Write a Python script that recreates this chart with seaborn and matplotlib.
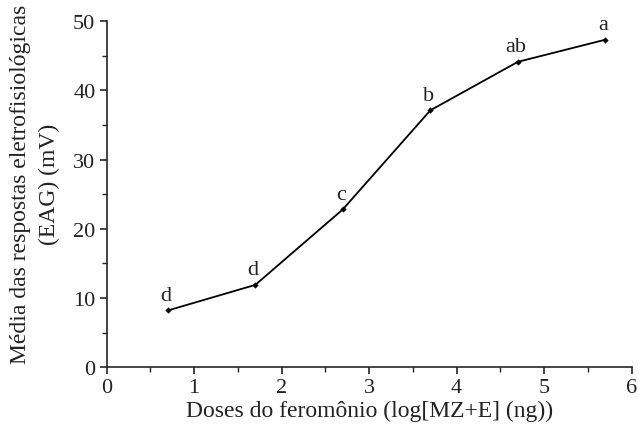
import matplotlib
matplotlib.use("Agg")
import matplotlib.pyplot as plt
from matplotlib.ticker import MultipleLocator
import pandas as pd
import seaborn as sns

# data
doses = [0.7, 1.7, 2.7, 3.7, 4.7, 5.7]
eag_mean = [8.2, 11.9, 22.8, 37.1, 44.1, 47.3]
letters = ["d", "d", "c", "b", "ab", "a"]

x_ticks = [0, 1, 2, 3, 4, 5, 6]
y_ticks = [0, 10, 20, 30, 40, 50]


def plot_eag(df):
    sns.set_style("ticks")
    plt.rcParams["font.family"] = ["Liberation Serif", "DejaVu Serif"]
    plt.rcParams["text.color"] = "#222222"

    fig = plt.figure(figsize=(6.38, 4.31), dpi=100)
    ax = fig.add_axes([0.167, 0.1455, 0.823, 0.8035])

    sns.lineplot(data=df, x="dose", y="eag", ax=ax, color="black",
                 linewidth=1.3, marker="D", markersize=3.2,
                 markeredgewidth=0, markerfacecolor="black")

    for xv, yv, lab in zip(df["dose"], df["eag"], df["letter"]):
        ax.annotate(lab, (xv, yv), xytext=(-1.5, 4), textcoords="offset points",
                    ha="center", va="bottom", fontsize=16, color="#222222")

    ax.set_xlim(0, 6)
    ax.set_ylim(0, 50)
    ax.set_xticks(x_ticks)
    ax.set_yticks(y_ticks)
    ax.xaxis.set_minor_locator(MultipleLocator(0.5))
    ax.yaxis.set_minor_locator(MultipleLocator(5))
    ax.tick_params(which="major", direction="out", length=5, width=1.2,
                   labelsize=16, labelcolor="#222222", pad=3)
    ax.tick_params(which="minor", direction="out", length=3.5, width=1.0)

    for side in ["left", "bottom"]:
        ax.spines[side].set_linewidth(1.2)
    sns.despine(ax=ax)

    ax.set_xlabel("Doses do feromônio (log[MZ+E] (ng))", fontsize=17,
                  color="#222222", labelpad=2)
    ax.set_ylabel("Média das respostas eletrofisiológicas\n(EAG) (mV)",
                  fontsize=17, color="#222222", linespacing=1.45)
    ax.yaxis.label.set_va("center")
    ax.yaxis.set_label_coords(-0.136, 0.53)

    fig.savefig("out.png", dpi=100)


def main():
    df = pd.DataFrame({"dose": doses, "eag": eag_mean, "letter": letters})
    plot_eag(df)


if __name__ == "__main__":
    main()
